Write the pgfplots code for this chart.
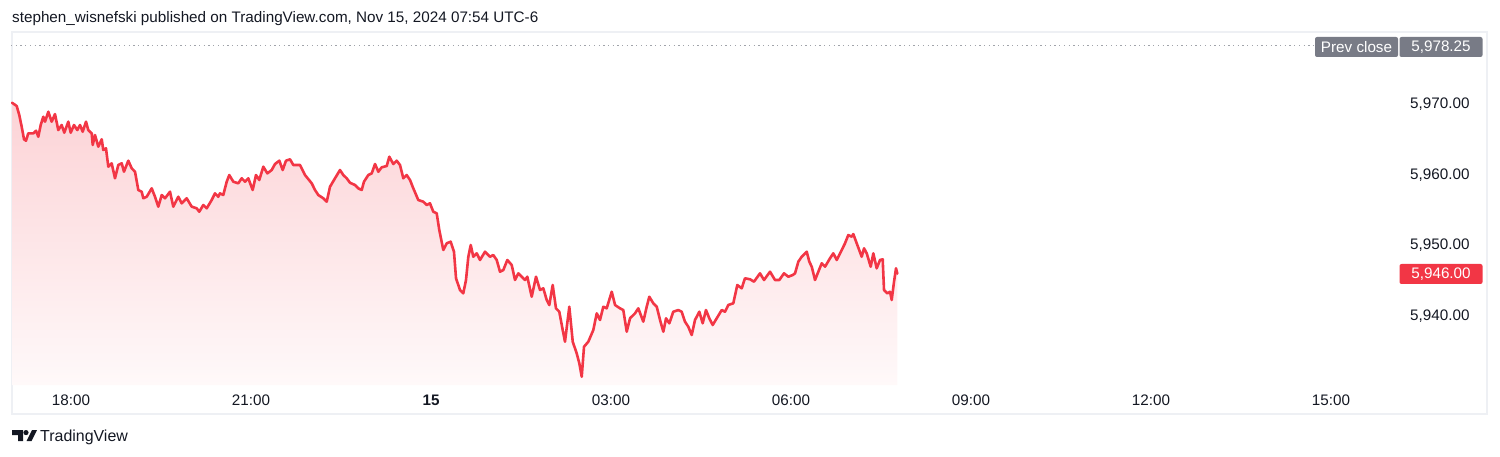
\documentclass[border=0pt]{standalone}
\usepackage{fontspec}
\setmainfont{Liberation Sans}
\usepackage{pgfplots}
\pgfplotsset{compat=1.18}
\usepackage{pgfplotstable}
\definecolor{tvred}{HTML}{F23645}
\definecolor{tvgray}{HTML}{787B86}
\definecolor{tvtext}{HTML}{131722}
\definecolor{tvframe}{HTML}{EEF0F4}

\pgfplotstableread{
h v
0.017 5970.18
0.095 5969.72
0.138 5968.44
0.178 5966.79
0.217 5965.01
0.250 5964.81
0.288 5965.85
0.372 5965.85
0.417 5966.22
0.455 5965.37
0.495 5967.03
0.538 5968.20
0.567 5967.50
0.622 5968.91
0.678 5967.50
0.733 5968.58
0.788 5966.32
0.845 5967.03
0.888 5965.94
0.955 5967.50
0.995 5965.94
1.050 5967.03
1.105 5966.32
1.150 5967.03
1.195 5966.08
1.250 5967.50
1.288 5966.32
1.345 5965.85
1.362 5964.20
1.400 5965.61
1.455 5963.96
1.512 5965.01
1.538 5963.49
1.583 5963.73
1.622 5961.13
1.678 5961.61
1.733 5959.49
1.788 5961.37
1.845 5961.61
1.883 5960.42
1.955 5961.98
2.012 5960.90
2.067 5960.42
2.122 5957.83
2.178 5957.59
2.205 5956.66
2.262 5956.88
2.345 5958.07
2.400 5956.88
2.455 5955.47
2.512 5957.12
2.567 5956.66
2.650 5957.59
2.705 5955.47
2.788 5956.88
2.845 5955.95
2.928 5956.66
3.012 5955.47
3.095 5955.24
3.138 5954.76
3.205 5955.71
3.262 5955.24
3.345 5956.42
3.400 5957.36
3.455 5956.88
3.483 5957.36
3.538 5957.12
3.595 5959.01
3.638 5959.95
3.705 5959.01
3.788 5958.78
3.845 5959.49
3.900 5959.01
3.955 5959.49
4.028 5957.83
4.083 5959.95
4.138 5959.25
4.205 5961.13
4.272 5960.19
4.345 5960.66
4.400 5961.51
4.472 5961.98
4.528 5960.66
4.583 5961.98
4.650 5962.18
4.705 5961.37
4.817 5961.37
4.900 5959.95
5.012 5958.78
5.067 5957.83
5.122 5957.12
5.205 5956.66
5.262 5956.18
5.317 5958.30
5.400 5959.49
5.483 5960.66
5.538 5959.95
5.595 5959.49
5.650 5958.86
5.733 5958.54
5.788 5958.07
5.845 5957.83
5.883 5959.01
5.955 5959.95
6.012 5960.19
6.067 5961.51
6.122 5960.42
6.178 5961.04
6.262 5961.23
6.305 5962.54
6.372 5961.51
6.428 5961.98
6.483 5961.37
6.538 5959.49
6.595 5959.95
6.650 5959.25
6.705 5958.07
6.788 5956.42
6.872 5956.18
6.928 5955.71
6.983 5955.95
7.038 5954.76
7.095 5954.53
7.138 5952.17
7.205 5949.34
7.262 5950.29
7.328 5950.52
7.383 5949.10
7.417 5945.34
7.483 5943.68
7.538 5943.21
7.583 5945.10
7.622 5948.39
7.662 5950.05
7.705 5948.39
7.762 5948.87
7.817 5947.93
7.900 5949.10
7.983 5948.39
8.038 5948.63
8.095 5947.93
8.150 5946.27
8.205 5946.51
8.272 5947.93
8.345 5947.22
8.400 5945.10
8.455 5946.04
8.512 5945.56
8.567 5945.10
8.605 5945.56
8.678 5942.73
8.750 5945.56
8.817 5943.68
8.872 5943.92
8.928 5942.27
8.972 5941.56
9.028 5944.39
9.083 5941.09
9.138 5940.61
9.195 5938.02
9.233 5936.37
9.305 5941.32
9.362 5936.37
9.428 5934.72
9.472 5933.31
9.512 5931.41
9.550 5935.66
9.622 5936.37
9.705 5938.02
9.762 5940.38
9.817 5939.44
9.872 5941.32
9.928 5941.09
10.012 5943.44
10.067 5941.56
10.150 5941.09
10.205 5940.85
10.262 5937.78
10.317 5939.68
10.400 5940.38
10.455 5941.09
10.538 5939.20
10.595 5941.32
10.638 5942.73
10.705 5941.80
10.762 5941.32
10.817 5939.44
10.872 5937.78
10.917 5939.68
10.972 5938.97
11.038 5940.61
11.122 5940.85
11.178 5940.61
11.233 5939.20
11.288 5938.49
11.345 5937.31
11.400 5939.44
11.472 5940.61
11.528 5938.97
11.583 5940.85
11.638 5939.68
11.695 5938.73
11.762 5939.68
11.845 5940.85
11.900 5940.61
11.955 5941.56
12.038 5941.80
12.105 5944.39
12.178 5943.92
12.233 5945.34
12.317 5945.20
12.383 5944.86
12.483 5946.04
12.550 5945.10
12.650 5946.27
12.733 5945.10
12.805 5945.10
12.883 5946.04
12.955 5945.56
13.028 5945.80
13.067 5946.04
13.122 5947.69
13.178 5948.39
13.262 5949.10
13.305 5947.69
13.345 5946.98
13.400 5945.10
13.455 5946.27
13.512 5947.46
13.567 5946.98
13.650 5948.17
13.705 5948.87
13.762 5947.93
13.845 5949.34
13.900 5950.29
13.955 5951.46
14.012 5951.22
14.038 5951.60
14.095 5950.29
14.178 5948.39
14.217 5949.58
14.262 5948.87
14.328 5946.98
14.372 5948.87
14.428 5946.75
14.483 5947.93
14.528 5948.03
14.550 5943.68
14.605 5943.21
14.650 5943.44
14.678 5942.27
14.717 5944.86
14.750 5946.75
14.772 5946.00
}\price

\begin{document}
\begin{tikzpicture}[x=1bp,y=1bp]
\useasboundingbox (0,0) rectangle (1500,-457);
\draw[tvframe, line width=1.2bp] (12,-32) rectangle (1487,-414);
\node[anchor=base west, font=\fontsize{15.3}{18}\selectfont, text=tvtext, inner sep=0] at (12,-23)
  {stephen\_wisnefski published on TradingView.com, Nov 15, 2024 07:54 UTC-6};
\begin{axis}[
  at={(11bp,-385bp)}, anchor=south west,
  scale only axis, width=1386bp, height=353bp,
  xmin=0, xmax=23.1, ymin=5930.24, ymax=5980.19,
  axis line style={draw=none},
  major tick length=0pt,
  xtick={1,4,7,10,13,16,19,22},
  xticklabels={18:00,21:00,\textbf{15},03:00,06:00,09:00,12:00,15:00},
  ytick={5940,5950,5960,5970},
  yticklabels={{5,940.00},{5,950.00},{5,960.00},{5,970.00}},
  yticklabel pos=right,
  ticklabel style={font=\fontsize{15.3}{18}\selectfont, text=tvtext},
  yticklabel style={anchor=east, xshift=76bp},
  xticklabel style={anchor=center, yshift=-15bp},
  clip=true,
]
\addplot[draw=none, top color=tvred!22!white, bottom color=tvred!3!white]
  table[x=h,y=v]{\price} |- (axis cs:0.017,5930.24) -- cycle;
\addplot[tvgray!70, line width=1.3bp, dash pattern=on 1.3bp off 3.4bp]
  coordinates {(0,5978.25) (21.7,5978.25)};
\addplot[tvred, line width=2.6bp, line join=round, line cap=round]
  table[x=h,y=v]{\price};
\end{axis}
\node[fill=tvgray, rounded corners=2bp, minimum width=83bp, minimum height=20bp,
  text=white, font=\fontsize{15.3}{18}\selectfont, inner sep=0] at (1356.5,-47) {Prev close};
\node[fill=tvgray, rounded corners=2bp, minimum width=83bp, minimum height=20bp,
  text=white, font=\fontsize{15.3}{18}\selectfont, inner sep=0] at (1441,-47) {5,978.25};
\node[fill=tvred, rounded corners=2bp, minimum width=83bp, minimum height=20bp,
  text=white, font=\fontsize{15.3}{18}\selectfont, inner sep=0] at (1441,-274) {5,946.00};
% TradingView logo
\fill[tvtext] (12,-430) -- (23,-430) -- (23,-441) -- (18,-441) -- (18,-435) -- (12,-435) -- cycle;
\fill[tvtext] (26,-432.6) circle (2.6);
\fill[tvtext] (26.5,-441) -- (31.5,-441) -- (37,-430) -- (32,-430) -- cycle;
\node[anchor=base west, font=\fontsize{16}{18}\selectfont, text=tvtext, inner sep=0] at (40,-441) {TradingView};
\end{tikzpicture}
\end{document}
